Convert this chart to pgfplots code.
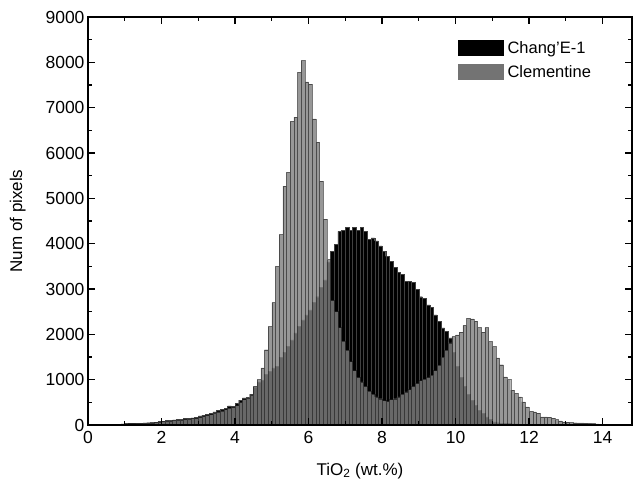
\documentclass[border=0pt]{standalone}
\usepackage{fontspec}
\setmainfont{Liberation Sans}
\usepackage{pgfplots}
\usepackage{pgfplotstable}
\pgfplotsset{compat=1.18}
\definecolor{clemleg}{gray}{0.45}

% bin centre, Chang'E-1 count, Clementine count
\pgfplotstableread{
x ce cl
0.05 10 10
0.15 15 10
0.25 15 12
0.35 15 12
0.45 15 12
0.55 15 12
0.65 20 15
0.75 20 15
0.85 20 18
0.95 25 20
1.05 30 25
1.15 35 30
1.25 35 30
1.35 40 35
1.45 40 35
1.55 45 40
1.65 50 45
1.75 60 50
1.85 65 55
1.95 75 65
2.05 85 75
2.15 95 85
2.25 105 90
2.35 115 100
2.45 125 110
2.55 130 115
2.65 140 125
2.75 150 130
2.85 155 140
2.95 165 145
3.05 200 170
3.15 215 190
3.25 240 210
3.35 260 230
3.45 290 260
3.55 330 290
3.65 340 310
3.75 360 340
3.85 420 370
3.95 410 390
4.05 480 430
4.15 550 500
4.25 600 560
4.35 610 600
4.45 680 660
4.55 840 850
4.65 950 1000
4.75 990 1260
4.85 1110 1660
4.95 1180 2170
5.05 1260 2700
5.15 1300 3500
5.25 1500 4200
5.35 1610 5270
5.45 1730 5570
5.55 1880 6700
5.65 2030 6790
5.75 2170 7780
5.85 2320 8040
5.95 2430 7570
6.05 2540 7520
6.15 2700 6750
6.25 2830 6240
6.35 3030 5380
6.45 3200 4540
6.55 3600 3650
6.65 3830 2750
6.75 3980 2500
6.85 4270 2150
6.95 4300 1850
7.05 4360 1650
7.15 4300 1400
7.25 4360 1200
7.35 4300 1050
7.45 4360 950
7.55 4270 850
7.65 4090 750
7.75 4130 680
7.85 4060 620
7.95 3950 580
8.05 3830 540
8.15 3720 520
8.25 3610 560
8.35 3470 580
8.45 3360 620
8.55 3330 680
8.65 3170 730
8.75 3170 780
8.85 3140 850
8.95 2990 920
9.05 2830 980
9.15 2800 1010
9.25 2650 1050
9.35 2590 1100
9.45 2430 1200
9.55 2280 1320
9.65 2140 1500
9.75 2060 1650
9.85 1920 1810
9.95 1600 1950
10.05 1300 1990
10.15 1050 2050
10.25 850 2200
10.35 680 2350
10.45 550 2340
10.55 440 2290
10.65 330 2150
10.75 260 2050
10.85 180 2150
10.95 120 1840
11.05 70 1730
11.15 50 1480
11.25 40 1330
11.35 35 1060
11.45 30 1000
11.55 25 770
11.65 25 700
11.75 20 620
11.85 20 510
11.95 20 400
12.05 15 300
12.15 15 290
12.25 15 260
12.35 12 180
12.45 12 180
12.55 12 175
12.65 10 150
12.75 10 120
12.85 10 90
12.95 10 70
13.05 8 65
13.15 8 55
13.25 8 50
13.35 8 45
13.45 8 45
13.55 6 40
13.65 6 35
13.75 6 30
13.85 6 25
13.95 6 20
14.05 5 15
14.15 5 12
14.25 5 10
14.35 5 10
14.45 5 8
14.55 5 8
14.65 4 5
14.75 4 5
}\histdata

\begin{document}
\begin{tikzpicture}
\begin{axis}[
  scale only axis,
  width=544bp, height=408bp,
  xmin=0, xmax=14.8,
  ymin=0, ymax=9000,
  xtick={0,2,...,14},
  minor xtick={1,3,...,13},
  ytick={0,1000,...,9000},
  minor ytick={500,1500,...,8500},
  tick align=inside,
  major tick length=7bp, minor tick length=4bp,
  tick style={black, line width=1.2pt},
  axis line style={line width=1.3pt},
  axis on top,
  scaled y ticks=false,
  /pgf/number format/set thousands separator={},
  /pgf/number format/assume math mode=true,
  tick label style={font=\fontsize{17.5bp}{20bp}\selectfont},
  xticklabel style={yshift=-3bp},
  label style={font=\fontsize{17bp}{20bp}\selectfont},
  xlabel={TiO\textsubscript{2} (wt.\%)},
  ylabel={Num of pixels},
  xlabel style={at={(axis description cs:0.5,-0.112)}, anchor=center},
  ylabel style={at={(axis description cs:-0.129,0.5)}, anchor=center},
  legend style={at={(0.68,0.945)}, anchor=north west, draw=none, fill=none,
    font=\fontsize{16.5bp}{19bp}\selectfont, row sep=9bp,
    inner sep=0pt, nodes={inner xsep=4bp, inner ysep=0pt}},
  legend cell align=left,
  legend image code/.code={\draw[#1] (0bp,-7bp) rectangle (45bp,8bp);},
]
\addplot[ybar, bar width=0.1, bar shift=0pt, fill=black, draw=black!75,
  line width=0.4bp, forget plot] table[x=x, y=ce]{\histdata};
\addplot[ybar, bar width=0.1, bar shift=0pt, fill=gray, fill opacity=0.82,
  draw=black, draw opacity=0.5, line width=0.4bp, forget plot]
  table[x=x, y=cl]{\histdata};
\addlegendimage{fill=black, draw=black}
\addlegendentry{Chang'E-1}
\addlegendimage{fill=clemleg, draw=clemleg}
\addlegendentry{Clementine}
\end{axis}
\path ([xshift=-88bp,yshift=-63bp]current axis.south west)
  rectangle ([xshift=3bp,yshift=17bp]current axis.north east);
\end{tikzpicture}
\end{document}
